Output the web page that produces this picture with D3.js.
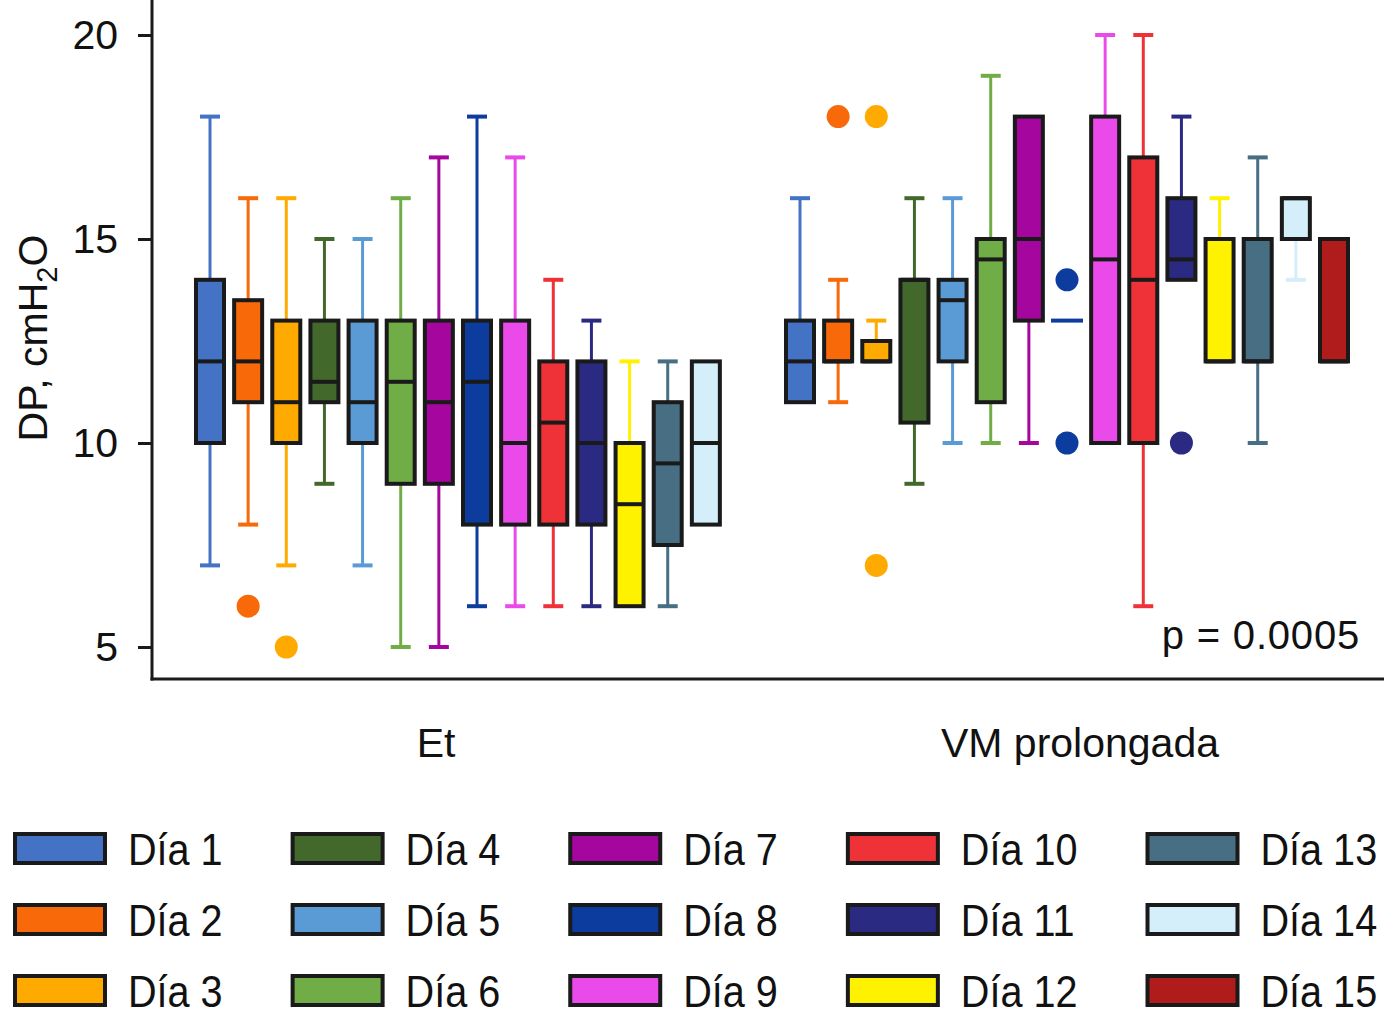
<!DOCTYPE html>
<html>
<head>
<meta charset="utf-8">
<script src="https://cdn.jsdelivr.net/npm/d3@7/dist/d3.min.js"></script>
<style>
  body { margin: 0; background: #fff; }
  text { font-family: "Liberation Sans", Arial, Helvetica, sans-serif; fill: #111; }
</style>
</head>
<body>
<div id="chart"></div>
<script>
var groups = ["Et", "VM prolongada"];
var days = ["Día 1", "Día 2", "Día 3", "Día 4", "Día 5", "Día 6", "Día 7", "Día 8",
            "Día 9", "Día 10", "Día 11", "Día 12", "Día 13", "Día 14", "Día 15"];
var dayColors = ["#4472C4", "#F8690A", "#FFAA00", "#43682B", "#5B9BD5", "#70AD47", "#A5079E", "#0C3D9E",
                 "#EA4AEA", "#EE3237", "#2B2A83", "#FFF200", "#476E82", "#D4EEFA", "#B01C1C"];
var yTicks = [5, 10, 15, 20];

// Et
var etLow     = [7, 8, 7, 9, 7, 5, 5, 6, 6, 6, 6, 6, 6, 8, null];
var etQ1      = [10, 11, 10, 11, 10, 9, 9, 8, 8, 8, 8, 6, 7.5, 8, null];
var etMedian  = [12, 12, 11, 11.5, 11, 11.5, 11, 11.5, 10, 10.5, 10, 8.5, 9.5, 10, null];
var etQ3      = [14, 13.5, 13, 13, 13, 13, 13, 13, 13, 12, 12, 10, 11, 12, null];
var etHigh    = [18, 16, 16, 15, 15, 16, 17, 18, 17, 14, 13, 12, 12, 12, null];
var etOutliers = [[], [6], [5], [], [], [], [], [], [], [], [], [], [], [], []];

// VM prolongada
var vmLow     = [11, 11, 12, 9, 10, 10, 10, 13, 10, 6, 14, 12, 10, 14, 12];
var vmQ1      = [11, 12, 12, 10.5, 12, 11, 13, 13, 10, 10, 14, 12, 12, 15, 12];
var vmMedian  = [12, 12, 12, 14, 13.5, 14.5, 15, 13, 14.5, 14, 14.5, 12, 12, 16, 12];
var vmQ3      = [13, 13, 12.5, 14, 14, 15, 18, 13, 18, 17, 16, 15, 15, 16, 15];
var vmHigh    = [16, 14, 13, 16, 16, 19, 18, 13, 20, 20, 18, 16, 17, 16, 15];
var vmOutliers = [[], [18], [18, 7], [], [], [], [], [14, 10], [], [], [10], [], [], [], []];

var pLabel = "p = 0.0005";
var yTitle = "DP, cmH";

var w = 1384, h = 1024;
var axisX = 152, axisY = 679;
var boxW = 28, capW = 20;
var ink = "#1a1a1a";

var svg = d3.select("#chart")
  .append("svg")
  .attr("width", w)
  .attr("height", h);

var y = d3.scaleLinear().domain([5, 20]).range([647, 35]);
var x0 = d3.scaleBand().domain(groups).range([182, 1362]);
var x1 = d3.scalePoint().domain(days).range([28, 562]);

var table = {
  "Et": { low: etLow, q1: etQ1, med: etMedian, q3: etQ3, high: etHigh, out: etOutliers },
  "VM prolongada": { low: vmLow, q1: vmQ1, med: vmMedian, q3: vmQ3, high: vmHigh, out: vmOutliers }
};

var rows = [];
groups.forEach(function (g) {
  var s = table[g];
  days.forEach(function (d, i) {
    if (s.med[i] == null) return;
    rows.push({ group: g, day: d, color: dayColors[i],
      low: s.low[i], q1: s.q1[i], med: s.med[i], q3: s.q3[i], high: s.high[i], out: s.out[i] });
  });
});

function cx(r) { return x0(r.group) + x1(r.day); }

// whiskers
var wh = svg.append("g").attr("class", "whiskers");
rows.forEach(function (r) {
  var c = cx(r);
  [[r.low, r.q1], [r.high, r.q3]].forEach(function (p) {
    if (p[0] === p[1]) return;
    wh.append("line")
      .attr("x1", c).attr("x2", c)
      .attr("y1", y(p[0])).attr("y2", y(p[1]))
      .attr("stroke", r.color).attr("stroke-width", 3);
    wh.append("line")
      .attr("x1", c - capW / 2).attr("x2", c + capW / 2)
      .attr("y1", y(p[0])).attr("y2", y(p[0]))
      .attr("stroke", r.color).attr("stroke-width", 4);
  });
});

// boxes
var bx = svg.append("g").attr("class", "boxes");
rows.forEach(function (r) {
  var c = cx(r);
  if (r.q3 > r.q1) {
    bx.append("rect")
      .attr("x", c - boxW / 2)
      .attr("y", y(r.q3))
      .attr("width", boxW)
      .attr("height", y(r.q1) - y(r.q3))
      .attr("fill", r.color)
      .attr("stroke", ink)
      .attr("stroke-width", 4);
    bx.append("line")
      .attr("x1", c - boxW / 2).attr("x2", c + boxW / 2)
      .attr("y1", y(r.med)).attr("y2", y(r.med))
      .attr("stroke", ink).attr("stroke-width", 4);
  } else {
    bx.append("line")
      .attr("x1", c - boxW / 2 - 2).attr("x2", c + boxW / 2 + 2)
      .attr("y1", y(r.med)).attr("y2", y(r.med))
      .attr("stroke", r.color).attr("stroke-width", 4);
  }
  r.out.forEach(function (v) {
    bx.append("circle")
      .attr("cx", c).attr("cy", y(v))
      .attr("r", 11.5)
      .attr("fill", r.color);
  });
});

// axes
var yAxis = svg.append("g")
  .attr("transform", "translate(" + axisX + ",0)")
  .call(d3.axisLeft(y).tickValues(yTicks).tickSize(14).tickPadding(20).tickSizeOuter(0));
yAxis.select(".domain").remove();
yAxis.selectAll(".tick line").attr("stroke", ink).attr("stroke-width", 3);
yAxis.selectAll(".tick text")
  .attr("font-size", 41)
  .attr("font-family", "Liberation Sans, Arial, sans-serif")
  .attr("fill", "#111");

svg.append("line")
  .attr("x1", axisX).attr("x2", axisX)
  .attr("y1", 0).attr("y2", axisY + 1.5)
  .attr("stroke", ink).attr("stroke-width", 3);
svg.append("line")
  .attr("x1", axisX - 1.5).attr("x2", w)
  .attr("y1", axisY).attr("y2", axisY)
  .attr("stroke", ink).attr("stroke-width", 3);

var labelDx = [-41, 13];
svg.selectAll(".grp")
  .data(groups)
  .enter().append("text")
  .attr("x", function (g, i) { return x0(g) + x0.bandwidth() / 2 + labelDx[i]; })
  .attr("y", 757)
  .attr("text-anchor", "middle")
  .attr("font-size", 41)
  .text(function (g) { return g; });

var yt = svg.append("text")
  .attr("transform", "translate(47,338) rotate(-90)")
  .attr("text-anchor", "middle")
  .attr("font-size", 41);
yt.append("tspan").text(yTitle);
yt.append("tspan").attr("font-size", 29).attr("dy", 10).text("2");
yt.append("tspan").attr("dy", -10).text("O");

svg.append("text")
  .attr("x", 1360)
  .attr("y", 649)
  .attr("text-anchor", "end")
  .attr("font-size", 40)
  .attr("letter-spacing", 0.8)
  .text(pLabel);

// legend, column major, 3 rows; text slightly condensed like the original
var legend = svg.append("g").attr("class", "legend");
var rowY = [848, 919, 990];
var squeeze = 0.9;
var colX = 15;
for (var col = 0; col * 3 < days.length; col++) {
  var maxW = 0;
  for (var r = 0; r < 3; r++) {
    var i = col * 3 + r;
    if (i >= days.length) break;
    legend.append("rect")
      .attr("x", colX).attr("y", rowY[r] - 14)
      .attr("width", 90).attr("height", 29)
      .attr("fill", dayColors[i])
      .attr("stroke", ink).attr("stroke-width", 4);
    var t = legend.append("text")
      .attr("transform", "translate(" + (colX + 113) + "," + (rowY[r] + 17) + ") scale(" + squeeze + ",1)")
      .attr("font-size", 44)
      .text(days[i]);
    maxW = Math.max(maxW, t.node().getComputedTextLength() * squeeze);
  }
  colX = colX + 113 + maxW + 70;
}
</script>
</body>
</html>
